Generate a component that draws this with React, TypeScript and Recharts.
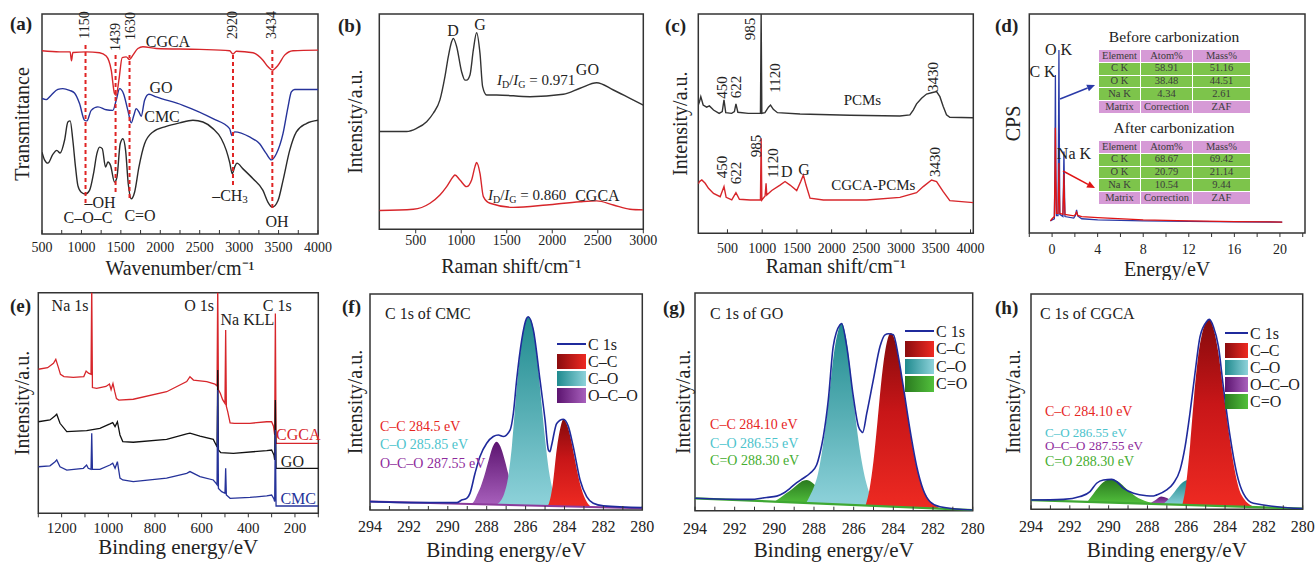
import React from 'react'
import { ComposedChart, Line, Area, XAxis, YAxis, ReferenceLine, ReferenceDot, ReferenceArea } from 'recharts'

const SERIF = '"Liberation Serif", "Times New Roman", Times, serif'
const INK = '#222'
const RED = '#d7262b'
const BLUE = '#26339a'
const DARK = '#2b2b2b'
const ENV = '#1f2a9c'
const TXT_RED = '#e6261f'
const TXT_TEAL = '#4cc3cc'
const TXT_PUR = '#8e2a9c'
const TXT_GRN = '#45ad2f'
const PINK = '#d69ad6'
const GREEN = '#7dc44b'

// (a) FTIR, wavenumber / transmittance
const ftirTicks = [500, 750, 1000, 1250, 1500, 1750, 2000, 2250, 2500, 2750, 3000, 3250, 3500, 3750, 4000]
const ftirCgca = [[500, 83.3], [722, 82.8], [857, 82.8], [874, 78.7], [891, 82.5], [1060, 82.8], [1230, 82.4], [1314, 80.9], [1378, 74.5], [1420, 63.8], [1441, 63.1], [1475, 69.9], [1517, 80.2], [1568, 80.5], [1610, 79.3], [1653, 81.3], [1716, 84.3], [1780, 85.1], [1949, 84.3], [2499, 83.9], [2879, 83.3], [2922, 81.8], [2964, 83.1], [3176, 82.4], [3302, 79.0], [3366, 76.0], [3421, 74.5], [3493, 76.7], [3577, 81.3], [3683, 83.3], [4000, 83.6]]
const ftirGo = [[500, 61.6], [553, 61.1], [616, 63.1], [701, 65.7], [764, 66.1], [849, 65.3], [912, 64.1], [976, 59.3], [1039, 51.7], [1069, 51.4], [1124, 56.2], [1209, 57.8], [1314, 56.5], [1399, 56.2], [1441, 60.8], [1484, 66.1], [1534, 63.8], [1589, 56.2], [1632, 50.5], [1665, 54.0], [1695, 57.0], [1729, 55.5], [1758, 53.5], [1801, 60.8], [1856, 63.5], [1949, 62.3], [2287, 58.5], [2668, 52.4], [2879, 47.9], [2909, 44.8], [2943, 46.4], [3133, 44.1], [3260, 41.0], [3345, 36.5], [3408, 33.7], [3472, 36.5], [3556, 45.6], [3620, 57.8], [3662, 64.6], [3704, 65.7], [4000, 65.7]]
const ftirCmc = [[500, 37.2], [532, 33.7], [574, 32.2], [637, 36.2], [688, 38.0], [730, 36.8], [786, 42.6], [828, 50.9], [857, 51.4], [891, 42.6], [925, 30.4], [955, 22.0], [997, 19.0], [1052, 18.2], [1103, 19.8], [1153, 27.4], [1196, 36.5], [1230, 39.5], [1264, 38.8], [1306, 30.4], [1336, 32.7], [1369, 31.2], [1420, 23.6], [1450, 25.8], [1492, 41.0], [1526, 43.3], [1560, 38.0], [1594, 22.8], [1632, 16.0], [1674, 19.0], [1729, 30.4], [1801, 41.0], [1907, 46.4], [2076, 48.9], [2245, 50.5], [2414, 51.7], [2541, 50.9], [2668, 47.9], [2774, 43.3], [2837, 38.0], [2879, 32.7], [2913, 27.4], [2943, 30.4], [2972, 32.2], [3049, 29.6], [3176, 25.1], [3302, 19.8], [3366, 14.4], [3421, 12.2], [3493, 15.2], [3556, 24.3], [3641, 38.0], [3726, 46.4], [3852, 50.2], [4000, 51.7]]
// dashed guide lines: [x, yLow, yHigh]
const ftirGuides = [[1052, 14.1, 86.8], [1433, 19.1, 81.4], [1610, 16.4, 81.4], [2922, 22.3, 82.7], [3421, 11.8, 85.0]]

// (b) Raman of GO / CGCA
const ramanTicks = [500, 1000, 1500, 2000, 2500, 3000]
const ramanGo = [[100, 45.4], [400, 45.4], [510, 46.9], [620, 50.0], [693, 53.9], [766, 60.1], [821, 70.9], [858, 80.2], [895, 87.2], [913, 88.7], [950, 84.8], [1004, 73.2], [1041, 69.3], [1059, 69.3], [1096, 71.7], [1133, 83.3], [1169, 91.3], [1206, 81.7], [1235, 66.3], [1279, 62.4], [1389, 62.4], [1755, 61.6], [2121, 62.7], [2305, 65.5], [2488, 68.1], [2671, 64.7], [2854, 60.8], [3000, 57.7]]
const ramanCgca = [[100, 8.7], [474, 9.3], [657, 12.1], [766, 15.9], [840, 19.8], [913, 24.5], [931, 25.2], [986, 22.9], [1059, 19.8], [1114, 22.9], [1151, 29.1], [1169, 31.0], [1206, 26.0], [1243, 15.2], [1316, 12.1], [1572, 10.2], [1938, 11.3], [2305, 12.8], [2488, 13.2], [2671, 11.3], [2854, 9.3], [3000, 9.0]]

// (c) Raman of PCMs
const pcmTicks = [500, 1000, 1500, 2000, 2500, 3000, 3500, 4000]
const ramanPcm = [[80, 58.5], [97, 60.0], [116, 62.3], [150, 58.5], [200, 57.5], [240, 58.1], [299, 56.2], [380, 54.7], [425, 55.5], [450, 60.8], [475, 55.0], [560, 54.7], [600, 55.5], [622, 59.0], [650, 55.2], [800, 54.7], [975, 54.7], [985, 100], [995, 54.7], [1040, 55.0], [1090, 57.5], [1120, 58.5], [1160, 56.5], [1220, 55.0], [1545, 54.4], [2264, 53.8], [2983, 53.5], [3127, 54.0], [3175, 56.2], [3223, 59.0], [3295, 61.6], [3367, 63.5], [3439, 64.1], [3511, 64.6], [3559, 62.3], [3607, 57.8], [3654, 54.0], [3702, 52.9], [4040, 52.7]]
const ramanCgcaPcm = [[80, 22.5], [97, 23.6], [131, 24.3], [179, 22.8], [227, 20.5], [299, 18.2], [395, 16.7], [450, 21.3], [481, 16.4], [562, 15.2], [622, 18.5], [672, 15.5], [826, 15.2], [975, 15.2], [985, 43.3], [995, 15.2], [1042, 17.0], [1056, 22.8], [1066, 17.5], [1138, 19.5], [1257, 22.0], [1329, 23.6], [1401, 22.0], [1497, 19.5], [1555, 23.6], [1593, 26.6], [1631, 22.0], [1689, 16.0], [1881, 15.2], [2504, 15.2], [2983, 16.4], [3223, 18.5], [3319, 21.3], [3439, 24.3], [3511, 23.6], [3607, 19.0], [3702, 14.9], [4040, 14.0]]

// (d) EDS, energy / CPS
const edsTicks = [-2, 0, 2, 4, 6, 8, 10, 12, 14, 16, 18, 20, 22]
const edsBefore = [[-0.15, 5.5], [0.0, 6.0], [0.2, 6.5], [0.25, 30], [0.29, 72.2], [0.33, 30], [0.38, 8], [0.52, 8], [0.57, 50], [0.6, 83.6], [0.63, 50], [0.68, 8.5], [0.95, 7.5], [1.0, 22], [1.04, 37.2], [1.08, 22], [1.13, 7.5], [1.9, 6.8], [2.05, 8], [2.15, 10.6], [2.25, 7.8], [2.6, 6.5], [4, 6], [8, 5.5], [12, 5.3], [16, 5.1], [20.2, 5.0]]
const edsAfter = [[-0.15, 5.5], [0.0, 6.5], [0.2, 7.5], [0.25, 25], [0.29, 48], [0.33, 25], [0.38, 9], [0.52, 9], [0.57, 22], [0.6, 32], [0.63, 20], [0.68, 9], [0.95, 8.5], [1.0, 18], [1.04, 27], [1.08, 16], [1.13, 8.5], [1.9, 7.8], [2.05, 8.5], [2.15, 9.5], [2.25, 8], [2.6, 7.5], [4, 7], [8, 6], [12, 5.5], [16, 5.2], [20.2, 5.0]]
const edsBeforeRows = [['Element', 'Atom%', 'Mass%'], ['C K', '58.91', '51.16'], ['O K', '38.48', '44.51'], ['Na K', '4.34', '2.61'], ['Matrix', 'Correction', 'ZAF']]
const edsAfterRows = [['Element', 'Atom%', 'Mass%'], ['C K', '68.67', '69.42'], ['O K', '20.79', '21.14'], ['Na K', '10.54', '9.44'], ['Matrix', 'Correction', 'ZAF']]

// (e) XPS survey, binding energy / intensity
const surveyTicks = [100, 200, 300, 400, 500, 600, 700, 800, 900, 1000, 1100, 1200, 1300]
const xpsCgca = [[1300, 65.3], [1260, 66.0], [1235, 68.0], [1225, 69.8], [1215, 66.5], [1205, 63.0], [1190, 62.0], [1150, 61.6], [1105, 62.0], [1095, 64.5], [1085, 63.5], [1074, 63.0], [1071, 104], [1068, 57.0], [1050, 56.6], [1010, 57.5], [995, 58.6], [988, 56.0], [980, 58.8], [972, 55.0], [965, 52.0], [955, 51.3], [893, 51.7], [750, 55.1], [664, 59.7], [650, 61.9], [635, 60.4], [578, 59.7], [543, 58.6], [534, 57.7], [531, 104], [528, 56.0], [520, 54.4], [510, 51.5], [500, 49.8], [497, 83.1], [494, 48.5], [488, 46.0], [478, 41.0], [460, 40.8], [393, 40.8], [321, 41.5], [300, 41.5], [292, 39.5], [287, 35.5], [284, 90.6], [281, 31.7], [270, 31.7], [100, 31.7]]
const xpsGo = [[1300, 41.5], [1250, 42.3], [1230, 44.0], [1221, 44.9], [1207, 40.8], [1178, 37.0], [1093, 37.5], [1036, 38.5], [993, 40.5], [981, 41.1], [971, 39.3], [961, 41.5], [950, 35.5], [938, 32.5], [893, 32.2], [750, 33.5], [664, 36.0], [650, 36.3], [607, 35.0], [550, 33.5], [538, 31.0], [534, 30.0], [531, 65.0], [528, 28.7], [518, 27.5], [464, 27.2], [321, 28.4], [300, 28.7], [290, 26.4], [287, 24.2], [284, 51.4], [281, 20.4], [100, 20.4]]
const xpsCmc = [[1300, 21.1], [1250, 21.5], [1228, 23.4], [1221, 24.2], [1207, 21.1], [1178, 19.6], [1107, 20.4], [1093, 21.9], [1086, 20.4], [1074, 19.9], [1071, 36.3], [1068, 19.9], [1036, 19.9], [993, 21.9], [981, 22.7], [971, 20.4], [961, 23.4], [950, 16.0], [938, 15.1], [893, 14.4], [750, 15.9], [664, 18.1], [650, 18.9], [607, 16.6], [550, 15.1], [538, 13.6], [534, 13.0], [531, 55.9], [528, 11.3], [514, 9.8], [500, 9.1], [497, 20.4], [494, 8.3], [478, 6.8], [393, 7.2], [321, 7.9], [300, 8.3], [290, 6.5], [287, 5.3], [284, 37.8], [281, 3.3], [100, 3.3]]

// (f)-(h) C 1s fits; components are [BE, low, high]
const c1sTicks = [280, 281, 282, 283, 284, 285, 286, 287, 288, 289, 290, 291, 292, 293, 294]
const cmcEnvelope = [[294, 3.9], [291, 3.4], [289.54, 3.4], [289.29, 4.6], [289.03, 5.4], [288.86, 7.7], [288.6, 17.0], [288.35, 24.7], [288.0, 30.9], [287.66, 34.0], [287.4, 34.7], [287.15, 34.0], [286.8, 37.0], [286.63, 44.8], [286.46, 60.2], [286.2, 78.7], [285.95, 88.7], [285.86, 89.5], [285.6, 83.3], [285.26, 60.2], [285.0, 41.7], [284.83, 27.8], [284.75, 27.0], [284.66, 30.1], [284.4, 40.1], [284.06, 42.0], [283.8, 38.6], [283.55, 29.3], [283.2, 13.9], [282.86, 6.2], [282.52, 3.1], [282.0, 1.9], [280, 1.1]]
const cmcBase = [[294, 3.9], [280, 0.8]]
const cmcOCO = [[288.9, 2.8, 2.8], [288.7, 2.7, 3.5], [288.5, 2.7, 7], [288.3, 2.6, 11], [288.1, 2.6, 16.5], [287.9, 2.5, 23], [287.7, 2.5, 29], [287.5, 2.5, 31.6], [287.3, 2.4, 29.5], [287.1, 2.4, 24], [286.9, 2.3, 17], [286.7, 2.3, 10], [286.5, 2.2, 5], [286.3, 2.2, 2.8], [286.1, 2.1, 2.1]]
const cmcCO = [[287.5, 2.5, 2.5], [287.3, 2.4, 4], [287.1, 2.4, 7.5], [286.9, 2.3, 15], [286.7, 2.3, 30], [286.5, 2.2, 52], [286.3, 2.2, 71], [286.1, 2.1, 84], [285.86, 2.1, 89.5], [285.6, 2.0, 84], [285.4, 2.0, 70], [285.2, 1.9, 51], [285.0, 1.9, 33], [284.8, 1.8, 18], [284.6, 1.8, 9], [284.4, 1.7, 4], [284.2, 1.7, 2]]
const cmcCC = [[284.9, 1.9, 1.9], [284.8, 1.8, 3], [284.6, 1.8, 12], [284.4, 1.7, 28], [284.2, 1.7, 38.5], [284.06, 1.7, 42], [283.9, 1.6, 40], [283.7, 1.6, 34], [283.5, 1.6, 25], [283.3, 1.5, 16], [283.1, 1.5, 9], [282.9, 1.4, 4.5], [282.7, 1.4, 2], [282.5, 1.4, 1.4]]

const goEnvelope = [[294, 5.7], [292.91, 5.4], [291.23, 5.2], [290.39, 6.1], [289.88, 6.7], [289.55, 8.0], [289.21, 10.3], [288.87, 12.9], [288.54, 14.9], [288.2, 17.2], [287.87, 21.0], [287.7, 26.4], [287.53, 34.0], [287.28, 50.9], [287.03, 75.5], [286.69, 85.4], [286.61, 86.0], [286.35, 75.5], [286.02, 52.5], [285.76, 38.7], [285.6, 36.3], [285.55, 35.9], [285.34, 44.8], [285.01, 60.1], [284.67, 75.5], [284.42, 80.8], [284.25, 81.3], [284.0, 80.8], [283.75, 70.9], [283.5, 57.1], [283.16, 37.1], [282.82, 20.2], [282.49, 9.5], [282.15, 4.1], [281.65, 1.8], [280, 0.3]]
const goBase = [[294, 5.7], [280, 0.3]]
const goCdO = [[290.0, 4.1, 4.1], [289.7, 4.0, 6], [289.4, 3.9, 8], [289.1, 3.8, 10], [288.8, 3.7, 12.3], [288.55, 3.6, 13.8], [288.37, 3.5, 14.1], [288.1, 3.4, 13], [287.8, 3.3, 10.5], [287.5, 3.2, 8], [287.2, 3.1, 6], [286.9, 3.0, 4.5], [286.6, 2.9, 3.2]]
const goCO = [[288.4, 3.5, 3.5], [288.2, 3.4, 7], [288.0, 3.4, 11], [287.8, 3.3, 17], [287.6, 3.2, 27], [287.4, 3.2, 40], [287.2, 3.1, 56], [287.0, 3.0, 72], [286.8, 3.0, 82], [286.6, 2.9, 86.2], [286.4, 2.8, 80], [286.2, 2.7, 67], [286.0, 2.6, 50], [285.8, 2.6, 35], [285.6, 2.5, 23], [285.4, 2.4, 14], [285.2, 2.3, 8], [285.0, 2.2, 4.5], [284.7, 2.1, 2.1]]
const goCC = [[285.4, 2.4, 2.4], [285.2, 2.3, 10], [285.0, 2.2, 23], [284.8, 2.2, 41], [284.6, 2.1, 60], [284.4, 2.0, 74], [284.25, 1.9, 80], [284.13, 1.9, 81.6], [283.95, 1.8, 79], [283.75, 1.7, 71], [283.5, 1.6, 57], [283.25, 1.6, 42], [283.0, 1.5, 28], [282.8, 1.4, 19], [282.5, 1.3, 10], [282.2, 1.2, 5], [281.9, 1.0, 2.5], [281.6, 0.9, 0.9]]

const cgcaEnvelope = [[294, 4.3], [292.33, 4.6], [291.47, 5.9], [290.96, 8.2], [290.62, 12.1], [290.27, 13.6], [289.84, 13.9], [289.58, 12.8], [289.24, 9.8], [288.72, 7.4], [288.04, 6.3], [287.69, 6.2], [287.52, 6.7], [287.01, 9.0], [286.66, 12.1], [286.32, 18.3], [286.06, 29.1], [285.81, 44.6], [285.55, 63.2], [285.29, 80.2], [284.95, 87.2], [284.81, 88.2], [284.6, 84.8], [284.34, 75.5], [284.09, 57.0], [283.74, 33.7], [283.4, 16.7], [283.06, 7.4], [282.54, 2.8], [280, 0.3]]
const cgcaBase = [[294, 4.3], [280, 0.3]]
const cgcaCdO = [[291.1, 3.4, 3.4], [290.8, 3.3, 7], [290.5, 3.2, 10.5], [290.2, 3.2, 13], [289.84, 3.1, 13.9], [289.5, 3.0, 12.8], [289.2, 2.9, 10.5], [288.9, 2.8, 8], [288.6, 2.7, 6], [288.3, 2.7, 4.5], [288.0, 2.6, 3.5], [287.7, 2.5, 2.8]]
const cgcaOCO = [[287.9, 2.6, 2.6], [287.6, 2.5, 4.2], [287.3, 2.4, 6.0], [287.0, 2.3, 5.2], [286.7, 2.2, 3.4], [286.5, 2.2, 2.2]]
const cgcaCO = [[287.2, 2.4, 2.4], [287.0, 2.3, 4], [286.7, 2.2, 7], [286.4, 2.1, 10.5], [286.1, 2.0, 13], [285.89, 2.0, 13.6], [285.6, 1.9, 12.5], [285.3, 1.8, 10], [285.0, 1.7, 7], [284.7, 1.6, 4.5], [284.4, 1.5, 2.5], [284.2, 1.5, 1.5]]
const cgcaCC = [[286.2, 2.0, 2.0], [286.0, 2.0, 12], [285.8, 2.0, 30], [285.6, 1.9, 52], [285.4, 1.9, 70], [285.2, 1.8, 81], [285.0, 1.7, 86.5], [284.81, 1.7, 88], [284.6, 1.6, 84], [284.35, 1.5, 73], [284.1, 1.5, 56], [283.9, 1.4, 42], [283.7, 1.4, 29], [283.5, 1.3, 18], [283.3, 1.2, 10], [283.0, 1.2, 4.5], [282.7, 1.1, 2.0], [282.4, 1.0, 1.0]]

const pts = (a: number[][]) => a.map(([x, y]) => ({ x, y }))
const rng = (a: number[][]) => a.map(([x, lo, hi]) => ({ x, y: [lo, hi] }))

function axisTick(major: (v: number) => boolean, fs: number, dy: number, inward: boolean) {
  return (p: any) => {
    const v = p.payload.value
    return (
      <g>
        <line x1={p.x} x2={p.x} y1={p.y} y2={inward ? p.y - 4 : p.y + 4} stroke="#333" strokeWidth={1} />
        {major(v) ? (
          <text x={p.x} y={p.y + dy} textAnchor="middle" fontSize={fs} fontFamily={SERIF} fill={INK}>{v}</text>
        ) : null}
      </g>
    )
  }
}

// axis titles drawn as own svg text so the serif face is kept
const xTitle = (text: string, fs: number, off: number) => (p: any) => {
  const vb = p.viewBox
  return (
    <text x={vb.x + vb.width / 2} y={vb.y + vb.height - off} textAnchor="middle" fontSize={fs} fontFamily={SERIF} fill={INK}>{text}</text>
  )
}
const yTitle = (text: string, off: number) => (p: any) => {
  const vb = p.viewBox
  const cx = vb.x + off
  const cy = vb.y + vb.height / 2
  return (
    <text x={cx} y={cy} textAnchor="middle" dominantBaseline="central" fontSize={20} fontFamily={SERIF} fill={INK}
      transform={`rotate(-90 ${cx} ${cy})`}>{text}</text>
  )
}

function frame(c: any) {
  return [
    <XAxis key="xa" dataKey="x" type="number" domain={c.domain} reversed={!!c.reversed} ticks={c.ticks} interval={0}
      allowDataOverflow tickSize={0} tickMargin={0} axisLine={false} tickLine={false} height={c.xh}
      tick={axisTick(c.major, c.fs, c.dy, !!c.inward)}
      label={{ content: xTitle(c.xTitle, c.xFs, c.xOff) }} />,
    <YAxis key="ya" type="number" domain={[0, 100]} allowDataOverflow tick={false} axisLine={false} tickLine={false} width={c.yw}
      label={{ content: yTitle(c.yTitle, c.yOff) }} />,
    <ReferenceArea key="box" y1={0} y2={100} fill="none" stroke="#333" strokeWidth={1.5} ifOverflow="visible" />,
  ]
}

function note(x: number, y: number, content: any, o: any = {}) {
  const size = o.size || 15
  const color = o.color || INK
  const anchor = o.anchor || 'middle'
  return (
    <ReferenceDot key={`n-${x}-${y}`} x={x} y={y} r={0} ifOverflow="visible"
      shape={(p: any) => (
        <text x={p.cx} y={p.cy} textAnchor={anchor} dominantBaseline="central" fontSize={size} fontFamily={SERIF} fill={color}
          transform={o.rotate ? `rotate(-90 ${p.cx} ${p.cy})` : undefined}>{content}</text>
      )} />
  )
}

const ratio = (val: string) => (
  <>
    <tspan fontStyle="italic">I</tspan><tspan dy={4} fontSize={10}>D</tspan>
    <tspan dy={-4}>/</tspan><tspan fontStyle="italic">I</tspan><tspan dy={4} fontSize={10}>G</tspan>
    <tspan dy={-4}>{` = ${val}`}</tspan>
  </>
)

function arrow(color: string) {
  return (p: any) => {
    const { x1, y1, x2, y2 } = p
    const a = Math.atan2(y2 - y1, x2 - x1)
    const bx = x2 - 8 * Math.cos(a)
    const by = y2 - 8 * Math.sin(a)
    const head = `${x2},${y2} ${bx - 3.5 * Math.sin(a)},${by + 3.5 * Math.cos(a)} ${bx + 3.5 * Math.sin(a)},${by - 3.5 * Math.cos(a)}`
    return (
      <g>
        <line x1={x1} y1={y1} x2={bx} y2={by} stroke={color} strokeWidth={1.5} />
        <polygon points={head} fill={color} />
      </g>
    )
  }
}

function grads(id: string) {
  return (
    <defs>
      <linearGradient id={`${id}-red`} x1="0" y1="0" x2="0" y2="1">
        <stop offset="0%" stopColor="#850a0c" /><stop offset="45%" stopColor="#c81618" /><stop offset="100%" stopColor="#ee2a22" />
      </linearGradient>
      <linearGradient id={`${id}-teal`} x1="0" y1="0" x2="0" y2="1">
        <stop offset="0%" stopColor="#1f8a8e" /><stop offset="100%" stopColor="#8ed2da" />
      </linearGradient>
      <linearGradient id={`${id}-pur`} x1="0" y1="0" x2="0" y2="1">
        <stop offset="0%" stopColor="#5c1470" /><stop offset="100%" stopColor="#a860bc" />
      </linearGradient>
      <linearGradient id={`${id}-grn`} x1="0" y1="0" x2="0" y2="1">
        <stop offset="0%" stopColor="#2a7a1f" /><stop offset="100%" stopColor="#52c03c" />
      </linearGradient>
    </defs>
  )
}

const comp = (key: string, data: number[][], fill: string) => (
  <Area key={key} data={rng(data)} dataKey="y" type="monotone" stroke="none" fill={fill} fillOpacity={1}
    dot={false} activeDot={false} isAnimationActive={false} />
)

const trace = (key: string, data: number[][], color: string, type: any = 'monotone', w = 1.4) => (
  <Line key={key} data={pts(data)} dataKey="y" type={type} stroke={color} strokeWidth={w}
    dot={false} activeDot={false} isAnimationActive={false} />
)

function Panel({ left, top, w, h, margin, children }: any) {
  return (
    <div style={{ position: 'absolute', left, top, width: w, height: h }}>
      <ComposedChart width={w} height={h} margin={margin}>{children}</ComposedChart>
    </div>
  )
}

function Tag({ left, top, text }: any) {
  return <div style={{ position: 'absolute', left, top, fontFamily: SERIF, fontWeight: 'bold', fontSize: 19, lineHeight: '19px', color: INK }}>{text}</div>
}

function EdsTable({ left, top, title, rows }: any) {
  return (
    <div style={{ position: 'absolute', left, top, width: 152, fontFamily: SERIF }}>
      <div style={{ textAlign: 'center', fontSize: 15.5, color: INK, height: 22, lineHeight: '20px', whiteSpace: 'nowrap' }}>{title}</div>
      <table style={{ borderCollapse: 'collapse', width: 152, fontSize: 10.5, color: '#3c3c3c', tableLayout: 'fixed' }}>
        <colgroup><col style={{ width: 42 }} /><col style={{ width: 52 }} /><col style={{ width: 58 }} /></colgroup>
        <tbody>
          {rows.map((r: string[], i: number) => (
            <tr key={i} style={{ height: 12.8, background: i === 0 || i === rows.length - 1 ? PINK : GREEN }}>
              {r.map((cell, j) => (
                <td key={j} style={{ border: '1px solid #fff', padding: 0, textAlign: 'center', lineHeight: '10.5px' }}>{cell}</td>
              ))}
            </tr>
          ))}
        </tbody>
      </table>
    </div>
  )
}

function XpsLegend({ left, top, items, sw, row }: any) {
  return (
    <div style={{ position: 'absolute', left, top, fontFamily: SERIF, fontSize: 16, color: INK }}>
      {items.map((it: any) => (
        <div key={it.name} style={{ display: 'flex', alignItems: 'center', height: row }}>
          {it.c1 ? (
            <div style={{ width: sw, height: row - 2, background: `linear-gradient(90deg, ${it.c0}, ${it.c1})` }} />
          ) : (
            <div style={{ width: sw, height: 2, background: it.c0 }} />
          )}
          <span style={{ marginLeft: 2, lineHeight: `${row}px` }}>{it.name}</span>
        </div>
      ))}
    </div>
  )
}

const L_C1S = { name: 'C 1s', c0: ENV }
const L_CC = { name: 'C–C', c0: '#8a0c0e', c1: '#ee2a22' }
const L_CO = { name: 'C–O', c0: '#1f8a8e', c1: '#8ed2da' }
const L_OCO = { name: 'O–C–O', c0: '#5c1470', c1: '#a860bc' }
const L_CDO = { name: 'C=O', c0: '#2a7a1f', c1: '#52c03c' }

const evenMajor = (v: number) => v % 2 === 0

export default function App() {
  return (
    <div style={{ position: 'absolute', left: 0, top: 0, width: 1315, height: 562, background: '#fff', overflow: 'hidden' }}>
      {/* (a) FTIR */}
      <Panel left={0} top={0} w={345} h={280} margin={{ top: 14, right: 27, bottom: 0, left: 0 }}>
        {frame({ domain: [500, 4000], ticks: ftirTicks, major: (v: number) => v % 500 === 0, fs: 14, dy: 17.5, inward: true, xh: 46, yw: 42, xTitle: 'Wavenumber/cm⁻¹', xOff: 5, xFs: 20, yTitle: 'Transmittance', yOff: 22 })}
        {trace('cmc', ftirCmc, DARK)}
        {trace('go', ftirGo, BLUE)}
        {trace('cgca', ftirCgca, RED)}
        {ftirGuides.map(([x, lo, hi]) => (
          <ReferenceLine key={`g${x}`} segment={[{ x, y: lo }, { x, y: hi }]} stroke="#e02424" strokeWidth={2} strokeDasharray="4 3" />
        ))}
        {note(1045, 95, '1150', { rotate: true, size: 14 })}
        {note(1426, 89.5, '1439', { rotate: true, size: 14 })}
        {note(1628, 94.5, '1630', { rotate: true, size: 14 })}
        {note(2922, 95, '2920', { rotate: true, size: 14 })}
        {note(3416, 95, '3434', { rotate: true, size: 14 })}
        {note(2097, 87.3, 'CGCA', { size: 16 })}
        {note(2009, 66.8, 'GO', { size: 16 })}
        {note(2022, 53.2, 'CMC', { size: 16 })}
        {note(1083, 7.3, 'C–O–C', { size: 16 })}
        {note(1235, 14.5, '–OH', { size: 16 })}
        {note(1743, 8.6, 'C=O', { size: 16 })}
        {note(2884, 17.7, <>–CH<tspan dy={4} fontSize={11}>3</tspan></>, { size: 16 })}
        {note(3480, 5.5, 'OH', { size: 16 })}
      </Panel>

      {/* (b) Raman GO / CGCA */}
      <Panel left={330} top={0} w={335} h={280} margin={{ top: 14, right: 21.7, bottom: 0, left: 0 }}>
        {frame({ domain: [100, 3000], ticks: ramanTicks, major: () => true, fs: 14, dy: 16, inward: false, xh: 50.7, yw: 49.3, xTitle: 'Raman shift/cm⁻¹', xOff: 6.7, xFs: 20, yTitle: 'Intensity/a.u.', yOff: 25 })}
        {trace('go', ramanGo, '#333')}
        {trace('cgca', ramanCgca, RED)}
        {note(909, 92.5, 'D', { size: 16 })}
        {note(1206, 94.9, 'G', { size: 16 })}
        {note(1392, 69.3, ratio('0.971'), { anchor: 'start' })}
        {note(2386, 74, 'GO', { size: 16 })}
        {note(1293, 15.9, ratio('0.860'), { anchor: 'start' })}
        {note(2496, 15.9, 'CGCA', { size: 16 })}
      </Panel>

      {/* (c) Raman PCMs */}
      <Panel left={655} top={0} w={340} h={280} margin={{ top: 14, right: 21.7, bottom: 0, left: 0 }}>
        {frame({ domain: [80, 4040], ticks: pcmTicks, major: () => true, fs: 14, dy: 20, inward: true, xh: 46.7, yw: 43.3, xTitle: 'Raman shift/cm⁻¹', xOff: 7, xFs: 20, yTitle: 'Intensity/a.u.', yOff: 25 })}
        {trace('pcm', ramanPcm, '#333', 'linear')}
        {trace('cgcapcm', ramanCgcaPcm, RED, 'linear')}
        {note(824, 93.2, '985', { rotate: true })}
        {note(417, 66.5, '450', { rotate: true })}
        {note(623, 66.7, '622', { rotate: true })}
        {note(1184, 70.8, '1120', { rotate: true })}
        {note(3464, 71.3, '3430', { rotate: true })}
        {note(2443, 60.8, 'PCMs')}
        {note(417, 30.2, '450', { rotate: true })}
        {note(623, 27.5, '622', { rotate: true })}
        {note(911, 39.8, '985', { rotate: true })}
        {note(1160, 32.1, '1120', { rotate: true })}
        {note(1353, 28.1, 'D', { size: 16 })}
        {note(1602, 28.9, 'G', { size: 16 })}
        {note(2600, 22, 'CGCA-PCMs')}
        {note(3488, 32.5, '3430', { rotate: true })}
      </Panel>

      {/* (d) EDS */}
      <Panel left={985} top={0} w={330} h={280} margin={{ top: 14, right: 10, bottom: 0, left: 0 }}>
        {frame({ domain: [-2, 22.2], ticks: edsTicks, major: (v: number) => v >= 0 && v <= 20 && v % 4 === 0, fs: 14, dy: 20.5, inward: false, xh: 47, yw: 44.3, xTitle: 'Energy/eV', xOff: 4.5, xFs: 20, yTitle: 'CPS', yOff: 28 })}
        {trace('before', edsBefore, '#2a3aa8', 'linear', 1.3)}
        {trace('after', edsAfter, '#e01414', 'linear', 1.3)}
        <ReferenceLine segment={[{ x: 0.7, y: 61.2 }, { x: 3.77, y: 67.6 }]} shape={arrow('#2a3aa8')} ifOverflow="visible" />
        <ReferenceLine segment={[{ x: 0.96, y: 28.3 }, { x: 3.77, y: 20.5 }]} shape={arrow('#e01414')} ifOverflow="visible" />
        {note(0.56, 83.6, 'O K', { size: 16 })}
        {note(-0.84, 73.7, 'C K', { size: 16 })}
        {note(1.92, 36.1, 'Na K', { size: 16 })}
      </Panel>
      <EdsTable left={1098} top={27} title="Before carbonization" rows={edsBeforeRows} />
      <EdsTable left={1098} top={118} title="After carbonization" rows={edsAfterRows} />

      {/* (e) XPS survey */}
      <Panel left={0} top={280} w={340} h={282} margin={{ top: 12.7, right: 21.7, bottom: 0, left: 0 }}>
        {frame({ domain: [100, 1300], reversed: true, ticks: surveyTicks, major: (v: number) => v % 200 === 0, fs: 15, dy: 20, inward: false, xh: 48.7, yw: 38.3, xTitle: 'Binding energy/eV', xOff: 8, xFs: 21, yTitle: 'Intensity/a.u.', yOff: 22 })}
        {trace('cgca', xpsCgca, RED, 'linear', 1.3)}
        {trace('go', xpsGo, '#111', 'linear', 1.3)}
        {trace('cmc', xpsCmc, BLUE, 'linear', 1.3)}
        {note(1164, 94.4, 'Na 1s', { size: 16 })}
        {note(611, 94.4, 'O 1s', { size: 16 })}
        {note(404, 87.9, 'Na KLL', { size: 16 })}
        {note(276, 94.4, 'C 1s', { size: 16 })}
        {note(186, 35.5, 'CGCA', { size: 16, color: RED })}
        {note(211, 23.4, 'GO', { size: 16 })}
        {note(186, 6.8, 'CMC', { size: 16, color: BLUE })}
      </Panel>

      {/* (f) C 1s of CMC */}
      <Panel left={330} top={280} w={335} h={282} margin={{ top: 14, right: 22.7, bottom: 0, left: 0 }}>
        {grads('f')}
        {frame({ domain: [280, 294], reversed: true, ticks: c1sTicks, major: evenMajor, fs: 16, dy: 22.3, inward: true, xh: 52, yw: 40, xTitle: 'Binding energy/eV', xOff: 5, xFs: 21, yTitle: 'Intensity/a.u.', yOff: 25 })}
        {comp('oco', cmcOCO, 'url(#f-pur)')}
        {comp('co', cmcCO, 'url(#f-teal)')}
        {comp('cc', cmcCC, 'url(#f-red)')}
        {trace('base', cmcBase, '#8a3a9a', 'linear', 2)}
        {trace('env', cmcEnvelope, ENV, 'monotone', 1.6)}
        {note(293.23, 91.2, 'C 1s of CMC', { anchor: 'start', size: 16 })}
        {note(293.49, 38.6, 'C–C 284.5 eV', { anchor: 'start', size: 14, color: TXT_RED })}
        {note(293.49, 30.1, 'C–O 285.85 eV', { anchor: 'start', size: 14, color: TXT_TEAL })}
        {note(293.49, 21.6, 'O–C–O 287.55 eV', { anchor: 'start', size: 14, color: TXT_PUR })}
      </Panel>
      <XpsLegend left={557} top={335.5} sw={29} row={17} items={[L_C1S, L_CC, L_CO, L_OCO]} />

      {/* (g) C 1s of GO */}
      <Panel left={655} top={280} w={340} h={282} margin={{ top: 13, right: 22.3, bottom: 0, left: 0 }}>
        {grads('g')}
        {frame({ domain: [280, 294], reversed: true, ticks: c1sTicks, major: evenMajor, fs: 16, dy: 23, inward: true, xh: 51.3, yw: 40, xTitle: 'Binding energy/eV', xOff: 5, xFs: 21, yTitle: 'Intensity/a.u.', yOff: 28 })}
        {comp('cdo', goCdO, 'url(#g-grn)')}
        {comp('co', goCO, 'url(#g-teal)')}
        {comp('cc', goCC, 'url(#g-red)')}
        {trace('base', goBase, '#3ea832', 'linear', 2.2)}
        {trace('env', goEnvelope, ENV, 'monotone', 1.6)}
        {note(293.24, 90.8, 'C 1s of GO', { anchor: 'start', size: 16 })}
        {note(293.24, 39.4, 'C–C 284.10 eV', { anchor: 'start', size: 14, color: TXT_RED })}
        {note(293.24, 31.0, 'C–O 286.55 eV', { anchor: 'start', size: 14, color: TXT_TEAL })}
        {note(293.24, 23.0, 'C=O 288.30 eV', { anchor: 'start', size: 14, color: TXT_GRN })}
      </Panel>
      <XpsLegend left={905} top={322.5} sw={29} row={17.5} items={[L_C1S, L_CC, L_CO, L_CDO]} />

      {/* (h) C 1s of CGCA */}
      <Panel left={985} top={280} w={330} h={282} margin={{ top: 14, right: 12.3, bottom: 0, left: 0 }}>
        {grads('h')}
        {frame({ domain: [280, 294], reversed: true, ticks: c1sTicks, major: evenMajor, fs: 16, dy: 23, inward: true, xh: 52.7, yw: 46, xTitle: 'Binding energy/eV', xOff: 5, xFs: 21, yTitle: 'Intensity/a.u.', yOff: 28 })}
        {comp('cdo', cgcaCdO, 'url(#h-grn)')}
        {comp('oco', cgcaOCO, 'url(#h-pur)')}
        {comp('co', cgcaCO, 'url(#h-teal)')}
        {comp('cc', cgcaCC, 'url(#h-red)')}
        {trace('base', cgcaBase, '#3ea832', 'linear', 2.2)}
        {trace('env', cgcaEnvelope, ENV, 'monotone', 1.6)}
        {note(293.54, 91.0, 'C 1s of CGCA', { anchor: 'start', size: 16 })}
        {note(293.28, 45.3, 'C–C 284.10 eV', { anchor: 'start', size: 14, color: TXT_RED })}
        {note(293.28, 35.8, 'C–O 286.55 eV', { anchor: 'start', size: 13, color: TXT_TEAL })}
        {note(293.28, 29.8, 'O–C–O 287.55 eV', { anchor: 'start', size: 13, color: TXT_PUR })}
        {note(293.28, 22.1, 'C=O 288.30 eV', { anchor: 'start', size: 14, color: TXT_GRN })}
      </Panel>
      <XpsLegend left={1225} top={324.5} sw={23} row={17} items={[L_C1S, L_CC, L_CO, L_OCO, L_CDO]} />

      <Tag left={10} top={14} text="(a)" />
      <Tag left={338} top={16} text="(b)" />
      <Tag left={665} top={16} text="(c)" />
      <Tag left={995} top={16} text="(d)" />
      <Tag left={10} top={296} text="(e)" />
      <Tag left={342} top={297} text="(f)" />
      <Tag left={663} top={298} text="(g)" />
      <Tag left={995} top={298} text="(h)" />
    </div>
  )
}
